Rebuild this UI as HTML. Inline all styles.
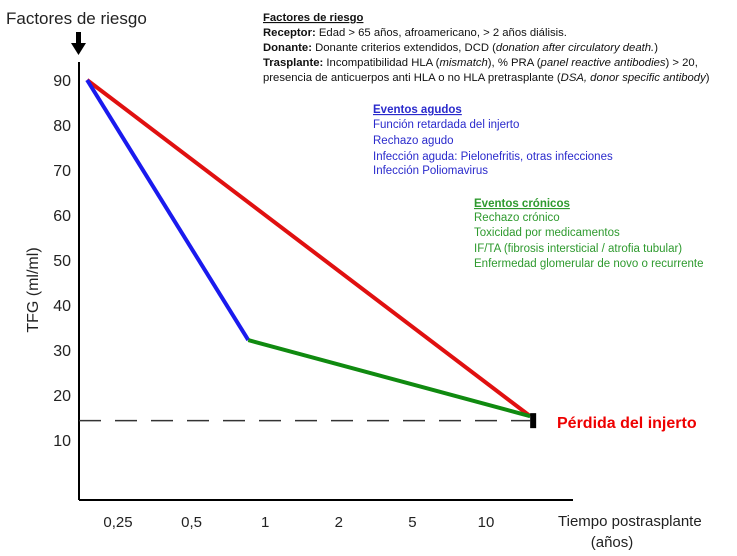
<!DOCTYPE html>
<html><head><meta charset="utf-8"><style>
body{margin:0;background:#fff;}
svg{display:block;font-family:"Liberation Sans",sans-serif;}
</style></head><body>
<svg id="c" width="737" height="556" viewBox="0 0 737 556">
<text x="6" y="24" font-size="17" fill="#222">Factores de riesgo</text>
<g><rect x="76" y="32" width="5" height="12" fill="#000"/><polygon points="71,43 86,43 78.5,55" fill="#000"/></g>
<line x1="79" y1="62" x2="79" y2="500" stroke="#000" stroke-width="2"/>
<line x1="79" y1="500" x2="573" y2="500" stroke="#000" stroke-width="2"/>
<text transform="translate(38,290) rotate(-90)" text-anchor="middle" font-size="16" fill="#222">TFG (ml/ml)</text>
<text x="558" y="526" font-size="15" fill="#222">Tiempo postrasplante</text>
<text x="612" y="547" text-anchor="middle" font-size="15" fill="#222">(años)</text>
<g id="yt"></g><g id="xt"></g><g id="marks"></g>
<g font-size="11.3" fill="#111">
<text x="263" y="21" font-weight="bold" text-decoration="underline">Factores de riesgo</text>
<text x="263" y="36"><tspan font-weight="bold">Receptor:</tspan> Edad &gt; 65 años, afroamericano, &gt; 2 años diálisis.</text>
<text x="263" y="51"><tspan font-weight="bold">Donante:</tspan> Donante criterios extendidos, DCD (<tspan font-style="italic">donation after circulatory death.</tspan>)</text>
<text x="263" y="66"><tspan font-weight="bold">Trasplante:</tspan> Incompatibilidad HLA (<tspan font-style="italic">mismatch</tspan>), % PRA (<tspan font-style="italic">panel reactive antibodies</tspan>) &gt; 20,</text>
<text x="263" y="81">presencia de anticuerpos anti HLA o no HLA pretrasplante (<tspan font-style="italic">DSA, donor specific antibody</tspan>)</text>
</g>
<g font-size="11.5" fill="#2a2acc">
<text x="373" y="113" font-weight="bold" text-decoration="underline">Eventos agudos</text>
<text x="373" y="128">Función retardada del injerto</text>
<text x="373" y="144">Rechazo agudo</text>
<text x="373" y="160">Infección aguda: Pielonefritis, otras infecciones</text>
<text x="373" y="174">Infección Poliomavirus</text>
</g>
<g font-size="11.5" fill="#2e9a2e">
<text x="474" y="207" font-weight="bold" text-decoration="underline">Eventos crónicos</text>
<text x="474" y="221">Rechazo crónico</text>
<text x="474" y="236">Toxicidad por medicamentos</text>
<text x="474" y="252">IF/TA (fibrosis intersticial / atrofia tubular)</text>
<text x="474" y="267">Enfermedad glomerular de novo o recurrente</text>
</g>
<text x="557" y="428" font-size="16" font-weight="bold" fill="#e00">Pérdida del injerto</text>
</svg>
<script>
const yTicks=[90,80,70,60,50,40,30,20,10];
const xCats=["0,25","0,5","1","2","5","10"];
const startPos=[-0.42,90];
const kneePos=[1.77,32.2];
const endPos=[5.6,15.3];
const lossThreshold=14.3;
const NS="http://www.w3.org/2000/svg";
function y(v){return 80+(90-v)*4.5;}
function x(i){return 118+73.6*i;}
function mk(t,a,p){const e=document.createElementNS(NS,t);for(const k in a)e.setAttribute(k,a[k]);p.appendChild(e);return e;}
const yt=document.getElementById('yt'),xt=document.getElementById('xt'),m=document.getElementById('marks');
yTicks.forEach(v=>{const t=mk('text',{x:71,y:y(v)+6,'text-anchor':'end','font-size':16,fill:'#222'},yt);t.textContent=v;

});
xCats.forEach((c,i)=>{const t=mk('text',{x:x(i),y:527,'text-anchor':'middle','font-size':15,fill:'#222'},xt);t.textContent=c;

});
const d=mk('line',{x1:79,y1:y(lossThreshold),x2:x(endPos[0]),y2:y(lossThreshold),stroke:'#333','stroke-width':1.5,'stroke-dasharray':'22,14'},m);


const r=mk('line',{x1:x(startPos[0]),y1:y(startPos[1]),x2:x(endPos[0]),y2:y(endPos[1]),stroke:'#e01010','stroke-width':4},m);


const b=mk('line',{x1:x(startPos[0]),y1:y(startPos[1]),x2:x(kneePos[0]),y2:y(kneePos[1]),stroke:'#1a1aee','stroke-width':4},m);


const g=mk('line',{x1:x(kneePos[0]),y1:y(kneePos[1]),x2:x(endPos[0]),y2:y(endPos[1]),stroke:'#108a10','stroke-width':4},m);


const s=mk('rect',{x:x(endPos[0]),y:y(endPos[1])-3,width:6,height:15,fill:'#000'},m);


</script>
</body></html>
